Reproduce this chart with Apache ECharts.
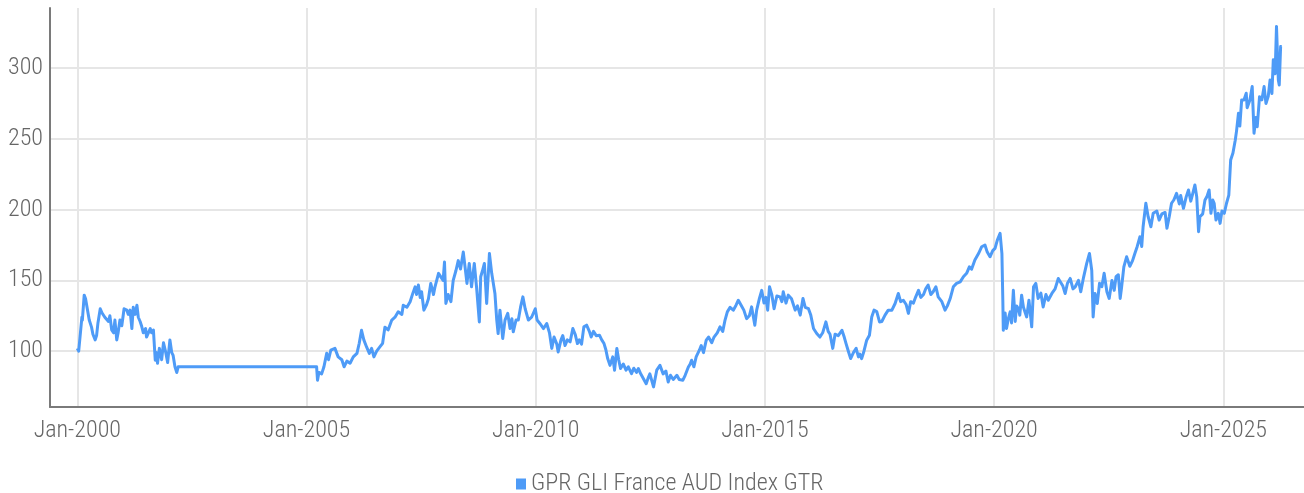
<!DOCTYPE html>
<html><head><meta charset="utf-8">
<script src="https://cdn.jsdelivr.net/npm/echarts@6/dist/echarts.min.js"></script>
<style>html,body{margin:0;padding:0;background:#fff}#c{width:1304px;height:493px}</style>
</head><body><div id="c"></div>
<script>
const seriesName = 'GPR GLI France AUD Index GTR';
// decimal years of each observation
const years = [
2000.00,2000.03,2000.06,2000.10,2000.11,2000.15,2000.18,2000.22,2000.26,2000.31,2000.34,2000.39,2000.42,2000.45,2000.50,2000.54,2000.60,2000.68,2000.71,2000.75,2000.79,2000.82,2000.86,2000.89,2000.93,2000.97,
2001.02,2001.08,2001.11,2001.15,2001.19,2001.22,2001.26,2001.30,2001.33,2001.37,2001.40,2001.44,2001.49,2001.51,2001.59,2001.62,2001.66,2001.70,2001.73,2001.75,2001.79,2001.84,2001.88,2001.93,2001.97,
2002.02,2002.06,2002.09,2002.13,2002.17,2002.20,2005.22,
2005.24,2005.27,2005.33,2005.38,2005.44,2005.48,2005.53,2005.62,2005.69,2005.77,2005.82,2005.88,2005.95,
2006.02,2006.10,2006.15,2006.20,2006.25,2006.31,2006.37,2006.42,2006.47,2006.53,2006.60,2006.66,2006.71,2006.78,2006.86,2006.93,
2007.00,2007.08,2007.11,2007.19,2007.26,2007.32,2007.37,2007.40,2007.44,2007.48,2007.51,2007.56,2007.62,2007.66,2007.71,2007.77,2007.80,2007.88,2007.91,2007.98,
2008.01,2008.04,2008.09,2008.15,2008.20,2008.26,2008.31,2008.36,2008.42,2008.46,2008.50,2008.55,2008.60,2008.66,2008.71,2008.77,2008.80,2008.84,2008.88,2008.93,2008.99,
2009.04,2009.11,2009.15,2009.18,2009.22,2009.28,2009.33,2009.39,2009.44,2009.48,2009.51,2009.57,2009.62,2009.67,2009.72,2009.77,2009.84,2009.91,2009.99,
2010.03,2010.09,2010.17,2010.24,2010.30,2010.35,2010.40,2010.46,2010.49,2010.55,2010.59,2010.64,2010.69,2010.75,2010.81,2010.86,2010.91,2010.95,
2011.00,2011.05,2011.11,2011.17,2011.21,2011.26,2011.32,2011.39,2011.44,2011.49,2011.53,2011.57,2011.62,2011.68,2011.72,2011.77,2011.81,2011.85,2011.91,2011.97,
2012.02,2012.09,2012.14,2012.20,2012.24,2012.29,2012.35,2012.41,2012.46,2012.49,2012.57,2012.64,2012.71,2012.78,2012.84,2012.89,2012.94,
2013.00,2013.08,2013.13,2013.21,2013.26,2013.33,2013.37,2013.40,2013.45,2013.50,2013.57,2013.61,2013.66,2013.72,2013.77,2013.84,2013.89,2013.96,
2014.02,2014.08,2014.13,2014.18,2014.24,2014.31,2014.37,2014.42,2014.49,2014.54,2014.60,2014.66,2014.71,2014.78,2014.82,2014.88,2014.93,2014.98,
2015.02,2015.06,2015.10,2015.15,2015.20,2015.26,2015.33,2015.37,2015.40,2015.46,2015.51,2015.58,2015.66,2015.71,2015.77,2015.83,2015.88,2015.95,
2016.00,2016.06,2016.13,2016.20,2016.26,2016.33,2016.38,2016.42,2016.48,2016.53,2016.60,2016.68,2016.73,2016.77,2016.82,2016.87,2016.93,2016.99,
2017.04,2017.07,2017.11,2017.16,2017.22,2017.28,2017.33,2017.38,2017.44,2017.50,2017.55,2017.62,2017.69,2017.77,2017.84,2017.91,2017.96,
2018.02,2018.08,2018.13,2018.18,2018.24,2018.29,2018.35,2018.40,2018.46,2018.51,2018.56,2018.62,2018.67,2018.73,2018.78,2018.86,2018.93,2018.98,
2019.04,2019.11,2019.18,2019.26,2019.33,2019.40,2019.46,2019.51,2019.58,2019.66,2019.73,2019.80,2019.85,2019.91,2019.97,
2020.02,2020.07,2020.13,2020.17,2020.19,2020.20,2020.24,2020.27,2020.31,2020.35,2020.38,2020.42,2020.46,2020.49,2020.53,2020.56,2020.60,2020.64,2020.67,2020.71,2020.76,2020.82,2020.86,2020.91,2020.96,
2021.02,2021.07,2021.13,2021.18,2021.26,2021.33,2021.40,2021.44,2021.50,2021.55,2021.60,2021.66,2021.72,2021.77,2021.84,2021.89,2021.95,
2022.02,2022.08,2022.13,2022.16,2022.20,2022.25,2022.30,2022.35,2022.40,2022.46,2022.51,2022.57,2022.62,2022.66,2022.71,2022.75,2022.78,2022.83,2022.89,2022.96,
2023.02,2023.07,2023.12,2023.18,2023.22,2023.25,2023.31,2023.36,2023.42,2023.47,2023.55,2023.60,2023.66,2023.73,2023.77,2023.82,2023.87,2023.92,2023.98,
2024.04,2024.07,2024.13,2024.19,2024.24,2024.29,2024.33,2024.38,2024.42,2024.46,2024.49,2024.55,2024.60,2024.64,2024.69,2024.73,2024.77,2024.80,2024.84,2024.89,2024.93,2024.97,
2025.02,2025.07,2025.12,2025.16,2025.21,2025.26,2025.29,2025.33,2025.36,2025.40,2025.45,2025.50,2025.52,2025.58,2025.63,2025.67,2025.71,2025.74,2025.79,2025.84,2025.89,2025.93,2025.98,
2026.02,2026.06,2026.09,2026.13,2026.16,2026.20,2026.22,2026.25,2026.27
];
const values = [
102,100,99,124,122,139.6,137,136,122,117,112,108,111,120,130,127,124,121,125,115,113,122,108,113,122,118,
130,129,126,129,116,131,126,132.5,124,121,118,113,116,110,116,113,115,93.6,99,91.5,102,94,106,99,92,
108,99,97,89,85,89,89,
79.5,85,84,89,98.5,94,100.7,102,96,94,89,93,91.5,
96,98.5,105.6,114.8,108,103,98.5,102,96,100,103,105.6,117,115,122,124,
127.8,126,132.5,131,134.9,141,145.5,140,146.7,138,142,129,133,137,147.9,140,145,155,155,150,
163,133.7,140,135,150,157,164,158,170,159,147.9,162,145.5,162,145,120.7,152.6,157,162,133.7,169,
155,140.8,122,112.5,129,109,122,126.7,116,123,113.7,122,122,131.3,138.4,130,122,124,130,
122,119.6,116,119.6,113,102,110,105,99.5,107.8,111,104,108,106.6,116,112,105.4,108,
105,117.2,118.4,114,110,114,111,111.3,108,105.4,101,94.8,90,96,86.6,102,94,87.8,91,86.6,
89,84.2,88,85,87.8,84,80.6,77,81.8,84,74.8,86.6,90,84,86,78.3,83,
80,83,80,79.5,83,88.9,91,93.6,89,96,100.7,104,99,107.8,110,106,110,113,
117.2,114,122,127.8,131,129,132.5,136,132,129,123,125,131.3,118.4,129,137.3,143,134,
138,129,145.5,140,130,139,138.4,135,142,134,139.6,137,129,132,125.5,137.3,131,130,
125.5,116,112.5,110,113,120.7,114,112,102,112,111,114.8,110,105.4,100,94.8,99,102,
96,98,94.8,100,107.8,111.3,124.2,129,128,120.7,121,125.5,129,129,133.7,140.8,135,
136,133,126.7,135,134,138.4,143,138,140,144.3,146.7,140,142,145.5,138.4,135,129,132,
137,145.5,147.9,149,152.6,155,159.6,158,164.4,169,173.8,175,170,166.7,171,
172.6,178.5,183.2,169,136,114.8,127,116,123,127.8,120,143,121,132,130,125.5,139.6,131,128,124.2,136,117.2,145.5,147.9,137.3,
141,131.3,140,136,140.8,144,151.4,152.6,146,140.8,148,151.4,144,145.5,150,142,152,
162,169,157,124.2,140.8,133.7,148,145.5,155,142,137.3,150,143,152.6,154,137.3,145,159.6,166.7,160,
164,169,173.8,180.8,174,187.9,204.5,195,187.9,197.4,199,192.6,197,198,186.8,195,204.5,206.8,211.5,
204,210,200.9,209,213.9,206,211,217.4,209,184.4,195,197,206.8,209,213.9,197.4,206.8,204.5,192.6,197.4,190.3,199,
197.4,204.5,210.3,235,240,249,256,268,259,277.5,277.5,282.2,272,277.5,286.9,253.9,265,258.6,279.8,277.5,286.9,275,280,
291.6,282,305.8,296,329.4,291.6,288,315.2,315
];
const yTicks = [100, 150, 200, 250, 300];
const xTicks = [2000, 2005, 2010, 2015, 2020, 2025];
const xTickLabels = ['Jan-2000', 'Jan-2005', 'Jan-2010', 'Jan-2015', 'Jan-2020', 'Jan-2025'];

const FONT = "'Roboto Condensed', Roboto, sans-serif";
const chart = echarts.init(document.getElementById('c'), null, { renderer: 'canvas' });
const data = years.map((y, i) => [y, values[i]]);

chart.setOption({
  animation: false,
  backgroundColor: '#ffffff',
  grid: { left: 50, right: 0, top: 8, bottom: 86, containLabel: false },
  legend: {
    data: [seriesName],
    left: 511, top: 467,
    icon: 'rect', itemWidth: 10, itemHeight: 11, itemGap: 10,
    textStyle: { fontFamily: FONT, fontWeight: 300, fontSize: 24, color: '#666666' }
  },
  xAxis: {
    type: 'value',
    min: 1999.404, max: 2026.76,
    axisLine: { show: true, lineStyle: { color: '#7a7a7a', width: 2 } },
    axisTick: { show: false, customValues: xTicks },
    axisLabel: {
      customValues: xTicks,
      margin: 12,
      fontFamily: FONT, fontWeight: 300, fontSize: 24, color: '#666666',
      formatter: v => xTickLabels[xTicks.indexOf(Math.round(v))] || ''
    },
    splitLine: { show: true, lineStyle: { color: '#e6e6e6', width: 2 } }
  },
  yAxis: {
    type: 'value',
    min: 60.6, max: 342.4,
    axisLine: { show: true, lineStyle: { color: '#7a7a7a', width: 2 } },
    axisTick: { show: false, customValues: yTicks },
    axisLabel: {
      customValues: yTicks,
      margin: 7,
      fontFamily: FONT, fontWeight: 300, fontSize: 24, color: '#666666'
    },
    splitLine: { show: true, lineStyle: { color: '#e6e6e6', width: 2 } }
  },
  series: [{
    name: seriesName,
    type: 'line',
    data: data,
    showSymbol: false,
    symbol: 'none',
    lineStyle: { color: '#4e9bf7', width: 3, join: 'round' },
    itemStyle: { color: '#4e9bf7' }
  }]
});
</script>
</body></html>
